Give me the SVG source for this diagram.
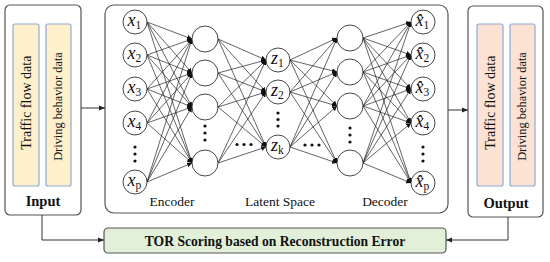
<svg xmlns="http://www.w3.org/2000/svg" width="550" height="262" viewBox="0 0 550 262" font-family="'Liberation Serif', 'Times New Roman', 'DejaVu Serif', serif">
<defs>
<marker id="ah" markerUnits="userSpaceOnUse" markerWidth="5" markerHeight="5" refX="5" refY="2.5" orient="auto"><path d="M0,0 L5,2.5 L0,5 z" fill="#111"/></marker>
<marker id="ab" markerUnits="userSpaceOnUse" markerWidth="6" markerHeight="6" refX="6" refY="3" orient="auto"><path d="M0,0.5 L6,3 L0,5.5 z" fill="#222"/></marker>
</defs>
<style>
.box{fill:#fff;stroke:#555;stroke-width:1.2}
.yel{fill:#fdf0cb;stroke:#8eaadb;stroke-width:1.2}
.pch{fill:#fbe2d3;stroke:#8eaadb;stroke-width:1.2}
.tor{fill:#e2f0d9;stroke:#555;stroke-width:1.2}
text{font-family:'Liberation Serif','Times New Roman','DejaVu Serif',serif;fill:#111}
.b{font-weight:bold}
.n{fill:#fff;stroke:#333;stroke-width:0.9}
.e line{stroke:#222;stroke-width:0.7;marker-end:url(#ah)}
.c{stroke:#333;stroke-width:1;fill:none;marker-end:url(#ab)}
.d{fill:#111}
.v{font-style:italic;font-size:18px}
.s{font-size:11.5px;font-style:normal}
</style>

<g id="input">
<rect class="box" x="5" y="5" width="76" height="210" rx="5"/>
<rect class="yel" x="13" y="24" width="26" height="162" rx="2"/>
<rect class="yel" x="46" y="24" width="25" height="162" rx="2"/>
<text font-size="14" text-anchor="middle" transform="translate(30.8,102.7) rotate(-90)">Traffic flow data</text>
<text font-size="12.4" text-anchor="middle" transform="translate(61.6,106.5) rotate(-90)">Driving behavior data</text>
<text class="b" font-size="14.5" x="43" y="206" text-anchor="middle">Input</text>
</g>

<g id="autoencoder">
<rect class="box" x="105" y="5" width="343" height="208" rx="9"/>
<text font-size="13.5" x="172" y="206" text-anchor="middle">Encoder</text>
<text font-size="13.5" x="280" y="206" text-anchor="middle">Latent Space</text>
<text font-size="13.5" x="385" y="206" text-anchor="middle">Decoder</text>
</g>

<g id="output">
<rect class="box" x="468" y="6" width="75" height="211" rx="5"/>
<rect class="pch" x="477" y="24" width="26" height="162" rx="2"/>
<rect class="pch" x="510" y="24" width="25" height="162" rx="2"/>
<text font-size="14" text-anchor="middle" transform="translate(494.8,102.7) rotate(-90)">Traffic flow data</text>
<text font-size="12.4" text-anchor="middle" transform="translate(525.6,106.5) rotate(-90)">Driving behavior data</text>
<text class="b" font-size="14.5" x="506" y="208" text-anchor="middle">Output</text>
</g>

<g id="tor">
<rect class="tor" x="104" y="228" width="342" height="25" rx="4"/>
<text class="b" font-size="13.6" x="275" y="245.5" text-anchor="middle">TOR Scoring based on Reconstruction Error</text>
</g>

<g id="connectors">
<line class="c" x1="81" y1="108" x2="105" y2="108"/>
<line class="c" x1="448" y1="110" x2="468" y2="110"/>
<path class="c" d="M42,215 V240 H104"/>
<path class="c" d="M508,217 V240 H446"/>
<g class="e">
<line x1="147" y1="22" x2="192" y2="39"/><line x1="147" y1="22" x2="192" y2="73"/><line x1="147" y1="22" x2="192" y2="107"/><line x1="147" y1="22" x2="192" y2="163"/>
<line x1="147" y1="55" x2="192" y2="39"/><line x1="147" y1="55" x2="192" y2="73"/><line x1="147" y1="55" x2="192" y2="107"/><line x1="147" y1="55" x2="192" y2="163"/>
<line x1="147" y1="89" x2="192" y2="39"/><line x1="147" y1="89" x2="192" y2="73"/><line x1="147" y1="89" x2="192" y2="107"/><line x1="147" y1="89" x2="192" y2="163"/>
<line x1="147" y1="123" x2="192" y2="39"/><line x1="147" y1="123" x2="192" y2="73"/><line x1="147" y1="123" x2="192" y2="107"/><line x1="147" y1="123" x2="192" y2="163"/>
<line x1="147" y1="182" x2="192" y2="39"/><line x1="147" y1="182" x2="192" y2="73"/><line x1="147" y1="182" x2="192" y2="107"/><line x1="147" y1="182" x2="192" y2="163"/>
<line x1="218" y1="39" x2="266" y2="60"/><line x1="218" y1="39" x2="266" y2="92"/><line x1="218" y1="39" x2="266" y2="147"/>
<line x1="218" y1="73" x2="266" y2="60"/><line x1="218" y1="73" x2="266" y2="92"/><line x1="218" y1="73" x2="266" y2="147"/>
<line x1="218" y1="107" x2="266" y2="60"/><line x1="218" y1="107" x2="266" y2="92"/><line x1="218" y1="107" x2="266" y2="147"/>
<line x1="218" y1="163" x2="266" y2="60"/><line x1="218" y1="163" x2="266" y2="92"/><line x1="218" y1="163" x2="266" y2="147"/>
<line x1="290" y1="60" x2="337" y2="38"/><line x1="290" y1="60" x2="337" y2="72"/><line x1="290" y1="60" x2="337" y2="106"/><line x1="290" y1="60" x2="337" y2="163"/>
<line x1="290" y1="92" x2="337" y2="38"/><line x1="290" y1="92" x2="337" y2="72"/><line x1="290" y1="92" x2="337" y2="106"/><line x1="290" y1="92" x2="337" y2="163"/>
<line x1="290" y1="147" x2="337" y2="38"/><line x1="290" y1="147" x2="337" y2="72"/><line x1="290" y1="147" x2="337" y2="106"/><line x1="290" y1="147" x2="337" y2="163"/>
<line x1="363" y1="38" x2="411" y2="22"/><line x1="363" y1="38" x2="411" y2="55"/><line x1="363" y1="38" x2="411" y2="89"/><line x1="363" y1="38" x2="411" y2="123"/><line x1="363" y1="38" x2="411" y2="183"/>
<line x1="363" y1="72" x2="411" y2="22"/><line x1="363" y1="72" x2="411" y2="55"/><line x1="363" y1="72" x2="411" y2="89"/><line x1="363" y1="72" x2="411" y2="123"/><line x1="363" y1="72" x2="411" y2="183"/>
<line x1="363" y1="106" x2="411" y2="22"/><line x1="363" y1="106" x2="411" y2="55"/><line x1="363" y1="106" x2="411" y2="89"/><line x1="363" y1="106" x2="411" y2="123"/><line x1="363" y1="106" x2="411" y2="183"/>
<line x1="363" y1="163" x2="411" y2="22"/><line x1="363" y1="163" x2="411" y2="55"/><line x1="363" y1="163" x2="411" y2="89"/><line x1="363" y1="163" x2="411" y2="123"/><line x1="363" y1="163" x2="411" y2="183"/>
</g>
</g>

<g id="input-layer">
<circle class="n" cx="135" cy="22" r="12"/><text class="v" x="127.5" y="26">x<tspan class="s" dy="3">1</tspan></text>
<circle class="n" cx="135" cy="55" r="12"/><text class="v" x="127.5" y="59">x<tspan class="s" dy="3">2</tspan></text>
<circle class="n" cx="135" cy="89" r="12"/><text class="v" x="127.5" y="93">x<tspan class="s" dy="3">3</tspan></text>
<circle class="n" cx="135" cy="123" r="12"/><text class="v" x="127.5" y="127">x<tspan class="s" dy="3">4</tspan></text>
<circle class="d" cx="135" cy="147" r="1.6"/><circle class="d" cx="135" cy="154" r="1.6"/><circle class="d" cx="135" cy="161" r="1.6"/>
<circle class="n" cx="135" cy="182" r="12"/><text class="v" x="127.5" y="186">x<tspan class="s" dy="3">p</tspan></text>
</g>

<g id="encoder-hidden">
<circle class="n" cx="205" cy="39" r="13"/>
<circle class="n" cx="205" cy="73" r="13"/>
<circle class="n" cx="205" cy="107" r="13"/>
<circle class="d" cx="205" cy="126" r="1.6"/><circle class="d" cx="205" cy="133" r="1.6"/><circle class="d" cx="205" cy="140" r="1.6"/>
<circle class="n" cx="205" cy="163" r="13"/>
<circle class="d" cx="237" cy="144.5" r="1.6"/><circle class="d" cx="244" cy="144.5" r="1.6"/><circle class="d" cx="251" cy="144.5" r="1.6"/>
</g>

<g id="latent-layer">
<circle class="n" cx="278" cy="60" r="12"/><text class="v" x="271" y="64">z<tspan class="s" dy="3">1</tspan></text>
<circle class="n" cx="278" cy="92" r="12"/><text class="v" x="271" y="96">z<tspan class="s" dy="3">2</tspan></text>
<circle class="d" cx="278" cy="113" r="1.6"/><circle class="d" cx="278" cy="119.5" r="1.6"/><circle class="d" cx="278" cy="126" r="1.6"/>
<circle class="n" cx="278" cy="147" r="12"/><text class="v" x="271" y="151">z<tspan class="s" dy="3" font-style="italic">k</tspan></text>
<circle class="d" cx="305" cy="145" r="1.6"/><circle class="d" cx="312" cy="145" r="1.6"/><circle class="d" cx="319" cy="145" r="1.6"/>
</g>

<g id="decoder-hidden">
<circle class="n" cx="350" cy="38" r="13"/>
<circle class="n" cx="350" cy="72" r="13"/>
<circle class="n" cx="350" cy="106" r="13"/>
<circle class="d" cx="350" cy="128" r="1.6"/><circle class="d" cx="350" cy="135" r="1.6"/><circle class="d" cx="350" cy="142" r="1.6"/>
<circle class="n" cx="350" cy="163" r="13"/>
</g>

<g id="output-layer">
<circle class="n" cx="423" cy="22" r="12"/><text class="v" x="415.5" y="26">x̂<tspan class="s" dy="3">1</tspan></text>
<circle class="n" cx="423" cy="55" r="12"/><text class="v" x="415.5" y="59">x̂<tspan class="s" dy="3">2</tspan></text>
<circle class="n" cx="423" cy="89" r="12"/><text class="v" x="415.5" y="93">x̂<tspan class="s" dy="3">3</tspan></text>
<circle class="n" cx="423" cy="123" r="12"/><text class="v" x="415.5" y="127">x̂<tspan class="s" dy="3">4</tspan></text>
<circle class="d" cx="423" cy="147" r="1.6"/><circle class="d" cx="423" cy="154" r="1.6"/><circle class="d" cx="423" cy="161" r="1.6"/>
<circle class="n" cx="423" cy="183" r="12"/><text class="v" x="415.5" y="187">x̂<tspan class="s" dy="3">p</tspan></text>
</g>
</svg>
